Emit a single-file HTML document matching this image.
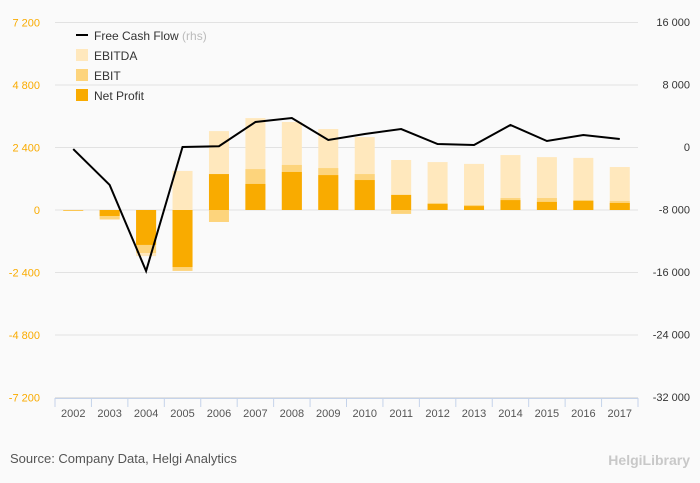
<!DOCTYPE html>
<html><head><meta charset="utf-8"><style>
body{margin:0;background:#fafafa;}
svg{display:block;font-family:"Liberation Sans",sans-serif;}
</style></head><body>
<svg id="c" width="700" height="483">
<rect width="700" height="483" fill="#fafafa"/>
<g id="grid"></g><g id="bars"></g><g id="line"></g><g id="axes"></g>
<g>
<line x1="76" y1="35" x2="88" y2="35" stroke="#000" stroke-width="2"/>
<text x="94" y="40" font-size="12" fill="#333">Free Cash Flow <tspan fill="#bbb">(rhs)</tspan></text>
<rect x="76" y="49" width="12" height="12" fill="#ffe8bd"/>
<text x="94" y="60" font-size="12" fill="#333">EBITDA</text>
<rect x="76" y="69" width="12" height="12" fill="#fdd47c"/>
<text x="94" y="80" font-size="12" fill="#333">EBIT</text>
<rect x="76" y="89" width="12" height="12" fill="#f9ab00"/>
<text x="94" y="100" font-size="12" fill="#333">Net Profit</text>
</g>
<text x="10" y="463" font-size="13" fill="#555">Source: Company Data, Helgi Analytics</text>
<text x="690" y="465" font-size="14" fill="#c8c8c8" text-anchor="end" font-weight="bold">HelgiLibrary</text>
</svg>
<script>
const years=["2002","2003","2004","2005","2006","2007","2008","2009","2010","2011","2012","2013","2014","2015","2016","2017"];
const ebitda=[-30,-380,-1770,1500,3030,3530,3380,3110,2800,1920,1840,1770,2110,2030,2000,1650];
const ebit=[-30,-350,-1650,-2340,-460,1570,1730,1610,1380,-150,270,190,460,460,380,350];
const netProfit=[0,-230,-1340,-2190,1380,1000,1460,1340,1150,580,230,150,380,310,350,270];
const fcf=[-260,-4860,-15870,0,100,3200,3710,900,1660,2300,380,260,2820,770,1540,1020];
const leftTicks=[7200,4800,2400,0,-2400,-4800,-7200];
const rightTicks=[16000,8000,0,-8000,-16000,-24000,-32000];
const NS="http://www.w3.org/2000/svg";
const x0=55,x1=638,yTop=22,yBot=398;
const bw=(x1-x0)/years.length;
const yL=v=>210-v*(62.5/2400);
const yR=v=>147-v*(62.5/8000);
const xc=i=>x0+bw*(i+0.5);
const fmt=v=>{const s=Math.abs(v).toString().replace(/\B(?=(\d{3})+(?!\d))/g," ");return (v<0?"-":"")+s;};
function mk(t,a,p){const e=document.createElementNS(NS,t);for(const k in a)e.setAttribute(k,a[k]);document.getElementById(p).appendChild(e);return e;}
leftTicks.forEach((v,i)=>{
 const g=mk("line",{x1:x0,x2:x1,y1:yL(v),y2:yL(v),stroke:"#e2e2e2","stroke-width":1},"grid");
 
 
 const t=mk("text",{x:40,y:yL(v)+4,"font-size":11,fill:"#f9ab00","text-anchor":"end"},"axes");t.textContent=fmt(v);
 
 
});
rightTicks.forEach(v=>{
 const t=mk("text",{x:690,y:yR(v)+4,"font-size":11,fill:"#333","text-anchor":"end"},"axes");t.textContent=fmt(v);
 
 
});
const ax=mk("line",{x1:x0,x2:x1,y1:398.5,y2:398.5,stroke:"#c5d3ea"},"axes");


for(let i=0;i<=years.length;i++){
 const tk=mk("line",{x1:x0+bw*i,x2:x0+bw*i,y1:398,y2:407,stroke:"#c5d3ea"},"axes");
 
 
}
years.forEach((y,i)=>{
 const t=mk("text",{x:xc(i),y:417,"font-size":11,fill:"#555","text-anchor":"middle"},"axes");t.textContent=y;
 
 
});
function bar(v,i,col,name){
 const a=yL(0),b=yL(v);
 const r=mk("rect",{x:xc(i)-10,width:20,y:Math.min(a,b),height:Math.max(Math.abs(a-b),0.5),fill:col},"bars");
 
 
}
years.forEach((y,i)=>{bar(ebitda[i],i,"#ffe8bd","bar-ebitda");bar(ebit[i],i,"#fdd47c","bar-ebit");bar(netProfit[i],i,"#f9ab00","bar-net-profit");});
const p=mk("polyline",{points:fcf.map((v,i)=>xc(i)+","+yR(v)).join(" "),fill:"none",stroke:"#000","stroke-width":2},"line");


</script>
</body></html>
